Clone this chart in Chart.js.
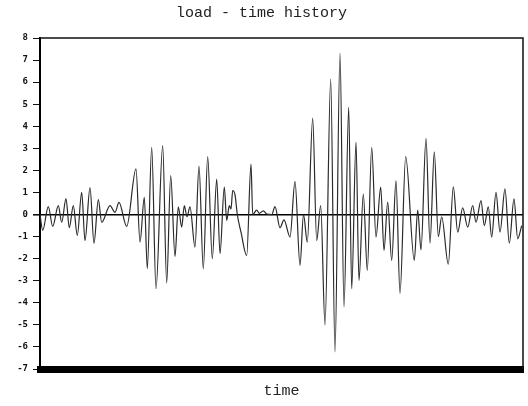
<!DOCTYPE html>
<html>
<head>
<meta charset="utf-8">
<title>load - time history</title>
<script src="https://cdn.jsdelivr.net/npm/chart.js@4"></script>
<style>
  html, body { margin: 0; padding: 0; background: #fff; }
  #wrap { width: 528px; height: 406px; position: relative; }
</style>
</head>
<body>
<div id="wrap"><canvas id="load-chart"></canvas></div>
<script>
// time of each turning point of the trace
const time = [
    0, 0.27, 0.83, 1.27, 1.83, 2.17, 2.6, 2.93, 3.33, 3.73,
    4.17, 4.5, 5.0, 5.4, 5.83, 6.17, 7.0, 7.5, 7.9, 8.67,
    9.6, 10.0, 10.43, 10.73, 11.17, 11.6, 12.27, 12.67, 13.07, 13.5,
    13.83, 14.17, 14.43, 14.7, 15.0, 15.5, 15.9, 16.33, 16.77, 17.23,
    17.67, 18.0, 18.43, 18.67, 18.93, 19.1, 19.27, 19.5, 19.73, 20.1,
    20.67, 21.1, 21.27, 21.67, 21.93, 22.33, 22.67, 23.17, 23.5, 24.0,
    24.4, 25.0, 25.5, 26.0, 26.35, 26.73, 27.27, 27.67, 28.07, 28.5,
    29.07, 29.5, 30.0, 30.4, 30.87, 31.17, 31.6, 31.9, 32.33, 32.73,
    33.17, 33.6, 34.07, 34.4, 34.77, 35.17, 35.6, 36.0, 36.57, 37.43,
    37.77, 38.1, 38.6, 39.0, 39.43, 39.83, 40.17, 40.83, 41.33, 41.77,
    42.27, 42.77, 43.27, 43.6, 44.1, 44.43, 44.83, 45.17, 45.6, 46.0,
    46.5, 46.93, 47.4, 47.77, 48.17
];
// load value at each of those points
const load = [
    0, -0.72, 0.36, -0.54, 0.4, -0.35, 0.72, -0.6, 0.4, -0.95,
    1.0, -1.18, 1.22, -1.3, 0.68, -0.35, 0.4, 0.1, 0.55, -0.54,
    2.07, -1.25, 0.78, -2.45, 3.05, -3.36, 3.12, -3.1, 1.76, -1.9,
    0.35, -0.57, 0.4, -0.1, 0.35, -1.48, 2.2, -2.46, 2.62, -2.0,
    1.61, -1.77, 1.24, -0.27, 0.41, 0.25, 1.09, 0.9, 0, -0.8,
    -1.86, 2.29, 0, 0.2, 0.05, 0.17, 0.02, 0, 0.36, -0.6,
    -0.24, -1.02, 1.5, -2.3, 0, -1.25, 4.37, -1.18, 0.41, -5.0,
    6.14, -6.23, 7.3, -4.19, 4.86, -3.36, 3.27, -2.99, 0.93, -2.53,
    3.05, -1.02, 1.24, -1.63, 0.56, -2.08, 1.54, -3.57, 2.62, -2.08,
    0.2, -1.6, 3.45, -1.3, 2.84, -1.0, -0.1, -2.25, 1.25, -0.8,
    0.3, -0.57, 0.41, -0.35, 0.63, -0.5, 0.35, -1.02, 1.0, -0.8,
    1.16, -1.3, 0.71, -1.1, -0.5
];
const yTicks = [-7, -6, -5, -4, -3, -2, -1, 0, 1, 2, 3, 4, 5, 6, 7, 8];

const monoFont = "'Liberation Mono', 'DejaVu Sans Mono', monospace";

// top and right edges of the plot box
const frameBox = {
    id: 'frameBox',
    afterDraw(chart) {
        const a = chart.chartArea;
        const ctx = chart.ctx;
        ctx.save();
        ctx.strokeStyle = '#111';
        ctx.lineWidth = 1.5;
        ctx.beginPath();
        ctx.moveTo(a.left, a.top);
        ctx.lineTo(a.right, a.top);
        ctx.lineTo(a.right, a.bottom);
        ctx.stroke();
        ctx.restore();
    }
};

const ctx = document.getElementById('load-chart').getContext('2d');
new Chart(ctx, {
    type: 'line',
    data: {
        datasets: [{
            label: 'load',
            data: time.map((t, i) => ({ x: t, y: load[i] })),
            borderColor: '#2a2a2a',
            borderWidth: 1.2,
            pointRadius: 0,
            cubicInterpolationMode: 'monotone',
            fill: false
        }]
    },
    options: {
        responsive: true,
        maintainAspectRatio: false,
        animation: false,
        layout: { padding: { left: 0, right: 5, top: 0, bottom: 0 } },
        plugins: {
            legend: { display: false },
            tooltip: { enabled: false },
            title: {
                display: true,
                text: 'load - time history',
                color: '#222',
                font: { family: monoFont, size: 15, weight: 'normal' },
                padding: { top: 4, bottom: 16 }
            }
        },
        scales: {
            x: {
                type: 'linear',
                min: 0,
                max: 48.3,
                ticks: { display: false },
                grid: { display: false },
                border: { display: true, color: '#000', width: 7 },
                title: {
                    display: true,
                    text: 'time',
                    color: '#222',
                    font: { family: monoFont, size: 15, weight: 'normal' },
                    padding: { top: 0, bottom: 6 }
                },
                afterFit: function(scale) { scale.height = 37; }
            },
            y: {
                min: -7,
                max: 8,
                afterBuildTicks: function(scale) {
                    scale.ticks = yTicks.map(v => ({ value: v }));
                },
                ticks: {
                    color: '#111',
                    padding: 5,
                    font: { family: "'DejaVu Sans Mono', monospace", size: 9, weight: 'bold' }
                },
                grid: {
                    drawOnChartArea: true,
                    tickLength: 7,
                    tickColor: '#111',
                    color: function(c) { return c.tick && c.tick.value === 0 ? '#000' : 'rgba(0,0,0,0)'; },
                    lineWidth: function(c) { return c.tick && c.tick.value === 0 ? 1.6 : 1; }
                },
                border: { display: true, color: '#000', width: 2 },
                afterFit: function(scale) { scale.width = 40; }
            }
        }
    },
    plugins: [frameBox]
});
</script>
</body>
</html>
